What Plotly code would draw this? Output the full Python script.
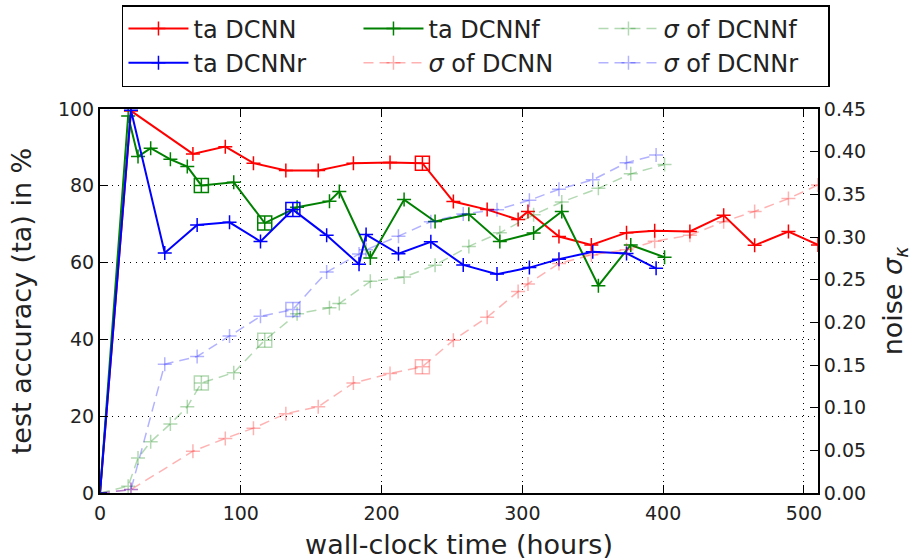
import plotly.graph_objects as go

# ---- DCNN (baseline) ----
dcnn_hours = [0, 22, 66, 89, 109, 132, 155, 180, 206, 229, 251, 275, 297, 304,
              326, 349, 374, 394, 419, 443, 465, 489, 510]
dcnn_ta = [0, 99.5, 88.3, 90.2, 85.9, 84.0, 84.0, 85.9, 86.1, 85.9, 75.9, 73.8,
           71.2, 73.3, 66.8, 64.6, 67.8, 68.3, 68.1, 72.3, 64.5, 68.1, 64.6]
dcnn_sigma = [0, 0.004, 0.049, 0.064, 0.076, 0.093, 0.101, 0.129, 0.140, 0.148,
              0.179, 0.206, 0.236, 0.245, 0.269, 0.279, 0.285, 0.295, 0.302,
              0.318, 0.330, 0.345, 0.361]
dcnn_boxes = [9]

# ---- DCNNf ----
dcnnf_hours = [0, 20, 27, 36, 50, 62, 72, 95, 117, 140, 163, 170, 192, 216, 238,
               262, 284, 308, 328, 354, 377, 401]
dcnnf_ta = [0, 98.2, 87.6, 89.8, 86.9, 85.0, 80.1, 80.9, 70.3, 74.4, 76.0, 78.5,
            61.2, 76.4, 70.7, 72.6, 65.5, 67.7, 73.3, 54.0, 64.6, 61.4]
dcnnf_sigma = [0, 0.008, 0.041, 0.060, 0.081, 0.101, 0.129, 0.141, 0.179, 0.210,
               0.217, 0.222, 0.248, 0.253, 0.267, 0.289, 0.305, 0.326, 0.341,
               0.357, 0.374, 0.385]
dcnnf_boxes = [6, 8]

# ---- DCNNr ----
dcnnr_hours = [0, 22, 46, 69, 92, 114, 137, 161, 184, 189, 212, 235, 258, 282,
               305, 326, 350, 374, 395]
dcnnr_ta = [0, 99.7, 62.5, 69.8, 70.5, 65.5, 73.8, 67.1, 59.6, 67.3, 62.3, 65.4,
            59.4, 57.0, 58.7, 60.9, 62.8, 62.4, 58.5]
dcnnr_sigma = [0, 0.004, 0.151, 0.160, 0.184, 0.207, 0.215, 0.259, 0.280, 0.285,
               0.301, 0.318, 0.327, 0.332, 0.343, 0.356, 0.367, 0.387, 0.396]
dcnnr_boxes = [6]

x_ticks = [0, 100, 200, 300, 400, 500]
ta_ticks = [0, 20, 40, 60, 80, 100]
sigma_ticks = [0.00, 0.05, 0.10, 0.15, 0.20, 0.25, 0.30, 0.35, 0.40, 0.45]

FONT = "DejaVu Sans"
TEXT = "#222222"

fig = go.Figure()


def add_model(name, hours, ta, sigma, boxes, rgb, ranks):
    solid = f"rgb({rgb})"
    faint = f"rgba({rgb},0.3)"
    fig.add_trace(go.Scatter(
        x=hours, y=ta, name=f"ta {name}", mode="lines+markers",
        line=dict(color=solid, width=2),
        marker=dict(symbol="cross-thin", size=10, line=dict(color=solid, width=1.5)),
        legendrank=ranks[0], yaxis="y"))
    fig.add_trace(go.Scatter(
        x=[hours[i] for i in boxes], y=[ta[i] for i in boxes], mode="markers",
        marker=dict(symbol="square-open", size=14, color=solid, line=dict(width=1.5)),
        showlegend=False, hoverinfo="skip", yaxis="y"))
    fig.add_trace(go.Scatter(
        x=hours, y=sigma, name=f"<i>σ</i> of {name}", mode="lines+markers",
        line=dict(color=faint, width=1.5, dash="10px,6px"),
        marker=dict(symbol="cross-thin", size=10, line=dict(color=faint, width=1.5)),
        legendrank=ranks[1], yaxis="y2"))
    fig.add_trace(go.Scatter(
        x=[hours[i] for i in boxes], y=[sigma[i] for i in boxes], mode="markers",
        marker=dict(symbol="square-open", size=14, color=faint, line=dict(width=1.5)),
        showlegend=False, hoverinfo="skip", yaxis="y2"))


add_model("DCNN", dcnn_hours, dcnn_ta, dcnn_sigma, dcnn_boxes, "255,0,0", (1, 5))
add_model("DCNNf", dcnnf_hours, dcnnf_ta, dcnnf_sigma, dcnnf_boxes, "0,128,0", (2, 3))
add_model("DCNNr", dcnnr_hours, dcnnr_ta, dcnnr_sigma, dcnnr_boxes, "0,0,255", (4, 6))

axis_common = dict(
    ticks="inside", ticklen=8, tickwidth=1, tickcolor="black", automargin=False,
    showline=True, linecolor="black", linewidth=2, zeroline=False,
    tickfont=dict(family=FONT, size=19, color=TEXT),
)

fig.update_layout(
    width=912, height=560,
    margin=dict(l=100, r=94, t=109, b=67, autoexpand=False),
    paper_bgcolor="white", plot_bgcolor="white",
    font=dict(family=FONT, color=TEXT),
    xaxis=dict(
        range=[0, 510], tickvals=x_ticks, mirror="ticks", ticklabelstandoff=2,
        showgrid=True, gridcolor="black", gridwidth=1, griddash="1px,5px",
        title=dict(text="wall-clock time (hours)", font=dict(size=27), standoff=16),
        **axis_common),
    yaxis=dict(
        range=[0, 100], tickvals=ta_ticks, mirror=True,
        showgrid=True, gridcolor="black", gridwidth=1, griddash="1px,5px",
        title=dict(text="test accuracy (ta) in %", font=dict(size=27), standoff=18),
        **axis_common),
    yaxis2=dict(
        range=[0, 0.45], tickvals=sigma_ticks, tickformat=".2f",
        overlaying="y", side="right", showgrid=False,
        title=dict(text="noise <i>σ</i><sub><i>κ</i></sub>", font=dict(size=27), standoff=18),
        **axis_common),
    legend=dict(
        orientation="h", x=0.0306, y=1.2708, xanchor="left", yanchor="top",
        entrywidth=160, entrywidthmode="pixels", itemwidth=60,
        bgcolor="white", bordercolor="black", borderwidth=1.5,
        font=dict(family=FONT, size=24, color=TEXT),
    ),
)

fig.write_html("out.html")
